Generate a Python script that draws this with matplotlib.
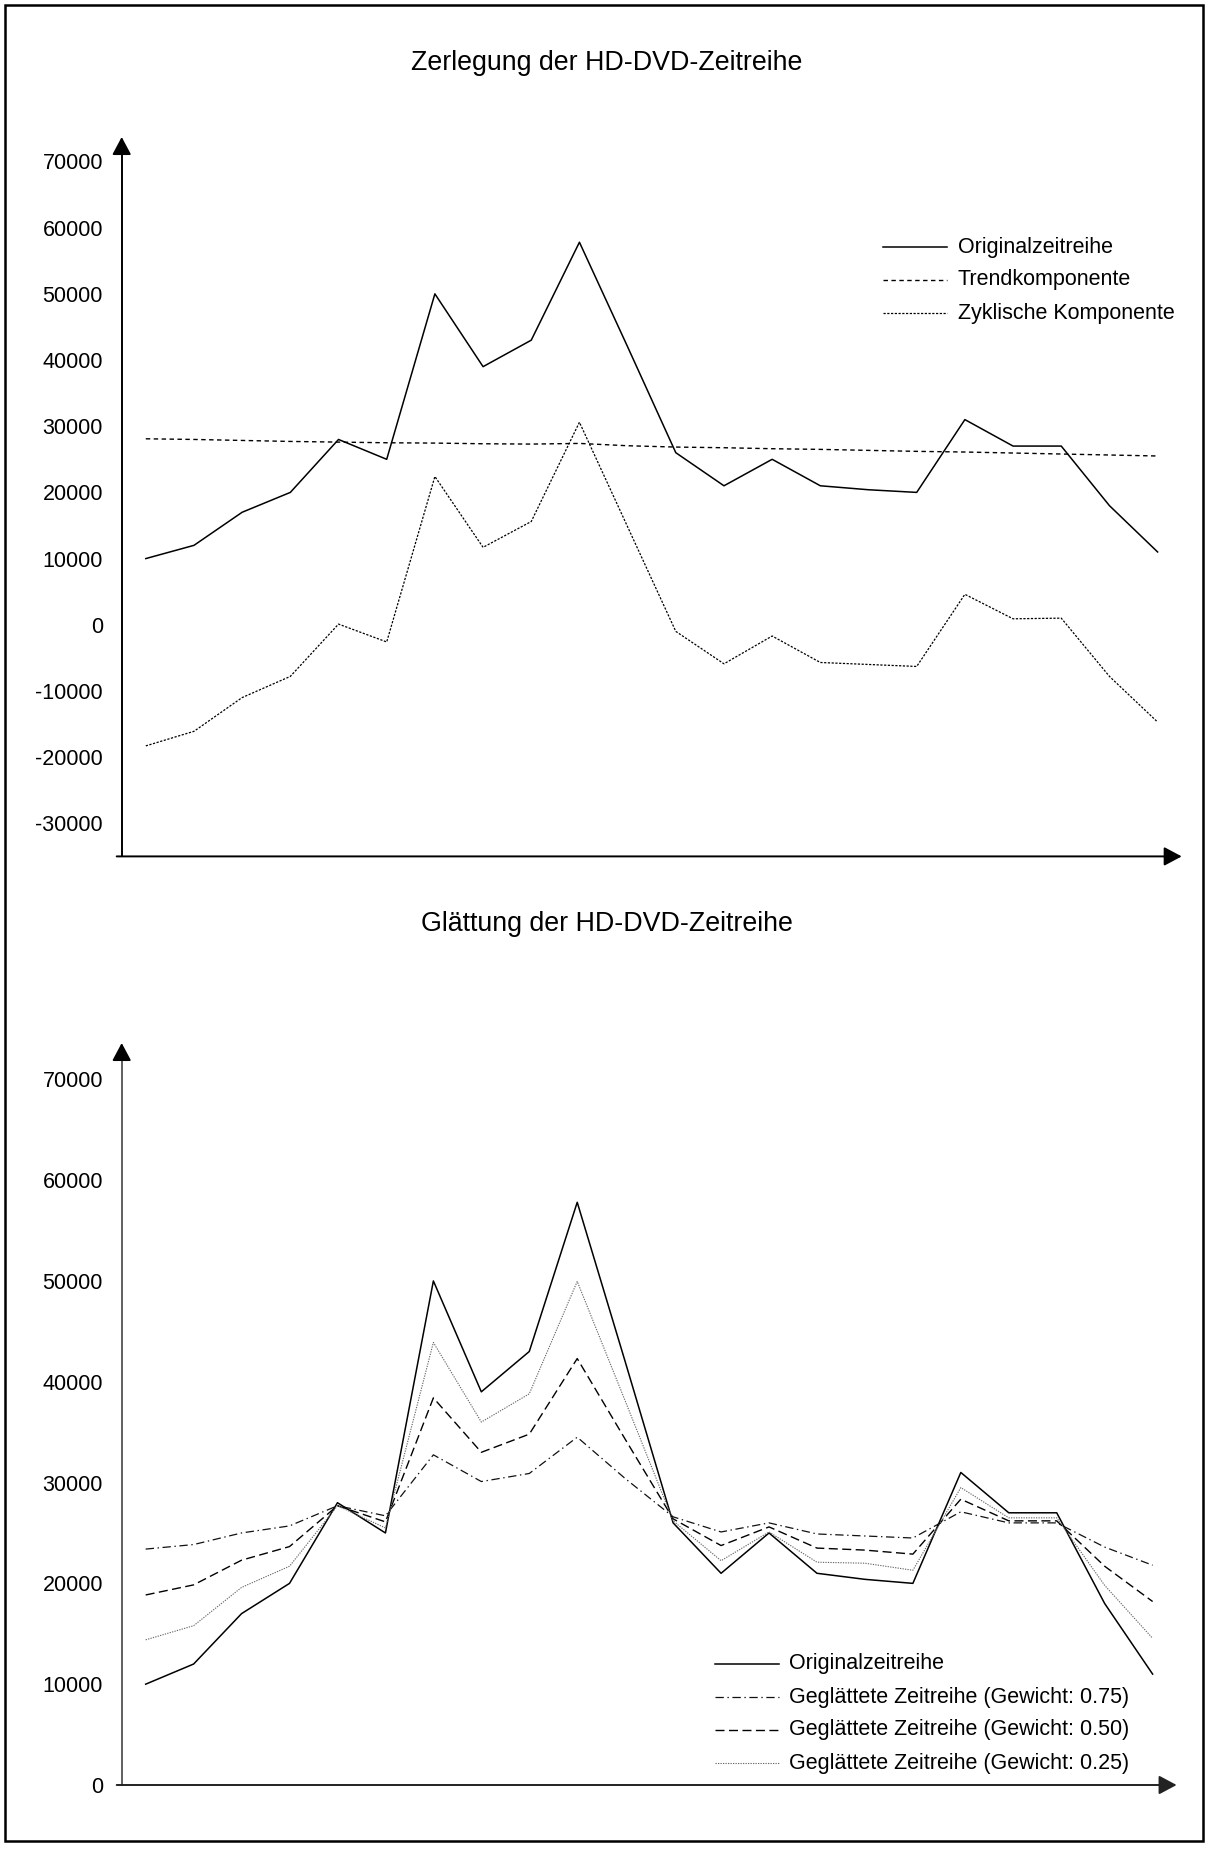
import matplotlib
matplotlib.use("Agg")
import matplotlib.pyplot as plt
from matplotlib.lines import Line2D
from matplotlib.patches import Rectangle

plt.rcParams["font.family"] = ["Liberation Sans", "DejaVu Sans"]
plt.rcParams["lines.scale_dashes"] = False

# ---- data -------------------------------------------------------------
periods = list(range(1, 23))

original = [10000, 12000, 17000, 20000, 28000, 25000, 50000, 39000, 43000, 57800,
            42000, 26000, 21000, 25000, 21000, 20400, 20000, 31000, 27000, 27000,
            18000, 11000]
trend = [28100, 28000, 27850, 27700, 27600, 27500, 27450, 27350, 27300, 27400,
         27050, 26850, 26750, 26600, 26500, 26350, 26200, 26100, 25950, 25800,
         25650, 25500]
cyclic = [-18300, -16100, -11000, -7800, 100, -2600, 22400, 11700, 15600, 30600,
          14800, -1000, -5900, -1700, -5700, -6000, -6300, 4600, 900, 1000,
          -7800, -14700]

smooth_075 = [23400, 23850, 25000, 25700, 27700, 26700, 32750, 30100, 30900, 34500,
              30400, 26600, 25100, 26000, 24900, 24700, 24500, 27100, 26000, 26000,
              23600, 21800]
smooth_050 = [18850, 19850, 22300, 23650, 27700, 26100, 38400, 33000, 34800, 42300,
              34300, 26400, 23750, 25600, 23500, 23300, 22900, 28350, 26200, 26200,
              21700, 18200]
smooth_025 = [14400, 15800, 19600, 21700, 27700, 25500, 43900, 36000, 38800, 49950,
              38100, 26200, 22250, 25100, 22100, 22000, 21300, 29500, 26500, 26500,
              19800, 14550]

top_ticks = [-30000, -20000, -10000, 0, 10000, 20000, 30000, 40000, 50000, 60000, 70000]
bottom_ticks = [0, 10000, 20000, 30000, 40000, 50000, 60000, 70000]

top_title = "Zerlegung der HD-DVD-Zeitreihe"
bottom_title = "Glättung der HD-DVD-Zeitreihe"
top_labels = ["Originalzeitreihe", "Trendkomponente", "Zyklische Komponente"]
bottom_labels = ["Originalzeitreihe",
                 "Geglättete Zeitreihe (Gewicht: 0.75)",
                 "Geglättete Zeitreihe (Gewicht: 0.50)",
                 "Geglättete Zeitreihe (Gewicht: 0.25)"]

# ---- styles -----------------------------------------------------------
STY_ORIG = dict(color="black", lw=1.1, linestyle="-")
STY_TREND = dict(color="black", lw=1.0, linestyle=(0, (3.2, 2.5)))
STY_CYC = dict(color="black", lw=0.9, linestyle=(0, (1.6, 1.1)))
STY_S75 = dict(color="#111111", lw=0.9, linestyle=(0, (6.0, 2.6, 1.0, 2.6)))
STY_S50 = dict(color="black", lw=1.0, linestyle=(0, (6.5, 3.2)))
STY_S25 = dict(color="#656565", lw=0.8, linestyle=(0, (0.9, 0.9)))

W, H = 1209, 1850
fig = plt.figure(figsize=(W / 100, H / 100), dpi=100)


def px_rect(left, top, right, bottom):
    return [left / W, 1 - bottom / H, (right - left) / W, (bottom - top) / H]


HEAD = "-|>,head_length=0.6,head_width=0.32"


def arrow_axes(ax, ycolor, xcolor, width_px, height_px):
    for s in ax.spines.values():
        s.set_visible(False)
    ax.set_xticks([])
    # vertical axis: shaft in its own colour, black arrow head on top
    ax.add_line(Line2D([0, 0], [0, 1 - 10 / height_px], transform=ax.transAxes,
                       color=ycolor, lw=1.4, clip_on=False))
    ax.annotate("", xy=(0, 1), xytext=(0, 1 - 16 / height_px),
                xycoords="axes fraction", textcoords="axes fraction",
                arrowprops=dict(arrowstyle=HEAD, color="black", lw=1.4,
                                mutation_scale=18, shrinkA=0, shrinkB=0))
    # horizontal axis
    ax.annotate("", xy=(1, 0), xytext=(-5 / width_px, 0),
                xycoords="axes fraction", textcoords="axes fraction",
                arrowprops=dict(arrowstyle=HEAD, color=xcolor, lw=1.4,
                                mutation_scale=18, shrinkA=0, shrinkB=0))
    ax.tick_params(axis="y", length=0, pad=13.5, labelsize=15.5)
    ax.patch.set_alpha(0)


def legend_rows(entries, x0, x1, xt, ys):
    for (sty, label), y in zip(entries, ys):
        yf = 1 - y / H
        fig.add_artist(Line2D([x0 / W, x1 / W], [yf, yf], transform=fig.transFigure, **sty))
        fig.text(xt / W, yf, label, ha="left", va="center", fontsize=15.5)


# ---- upper chart: decomposition --------------------------------------
ax1 = fig.add_axes(px_rect(121.7, 137, 1181.7, 856.4))
ax1.set_xlim(0.5, 22.5)
ax1.set_ylim(-35000, 73700)
ax1.plot(periods, original, **STY_ORIG)
ax1.plot(periods, trend, **STY_TREND)
ax1.plot(periods, cyclic, **STY_CYC)
ax1.set_yticks(top_ticks)
ax1.set_yticklabels([str(t) for t in top_ticks])
arrow_axes(ax1, "black", "black", 1060.0, 719.4)

fig.text(607 / W, 1 - 70 / H, top_title, ha="center", va="baseline", fontsize=19.3)
legend_rows(list(zip([STY_ORIG, STY_TREND, STY_CYC], top_labels)),
            883, 947, 958, [247, 280, 313])

# ---- lower chart: smoothing ------------------------------------------
ax2 = fig.add_axes(px_rect(121.7, 1043, 1176.6, 1785))
ax2.set_xlim(0.5, 22.5)
ax2.set_ylim(0, 73600)
ax2.plot(periods, original, **STY_ORIG)
ax2.plot(periods, smooth_075, **STY_S75)
ax2.plot(periods, smooth_050, **STY_S50)
ax2.plot(periods, smooth_025, **STY_S25)
ax2.set_yticks(bottom_ticks)
ax2.set_yticklabels([str(t) for t in bottom_ticks])
arrow_axes(ax2, "#5f5f5f", "#222222", 1054.9, 742.0)

fig.text(607 / W, 1 - 931 / H, bottom_title, ha="center", va="baseline", fontsize=19.3)
legend_rows(list(zip([STY_ORIG, STY_S75, STY_S50, STY_S25], bottom_labels)),
            715, 779, 789, [1664, 1697, 1730, 1763])

# ---- outer frame -----------------------------------------------------
fig.add_artist(Rectangle((5 / W, 1 - 1841 / H), 1198 / W, 1836 / H,
                         transform=fig.transFigure, fill=False,
                         edgecolor="black", lw=1.8))

fig.savefig("out.png", dpi=100)
